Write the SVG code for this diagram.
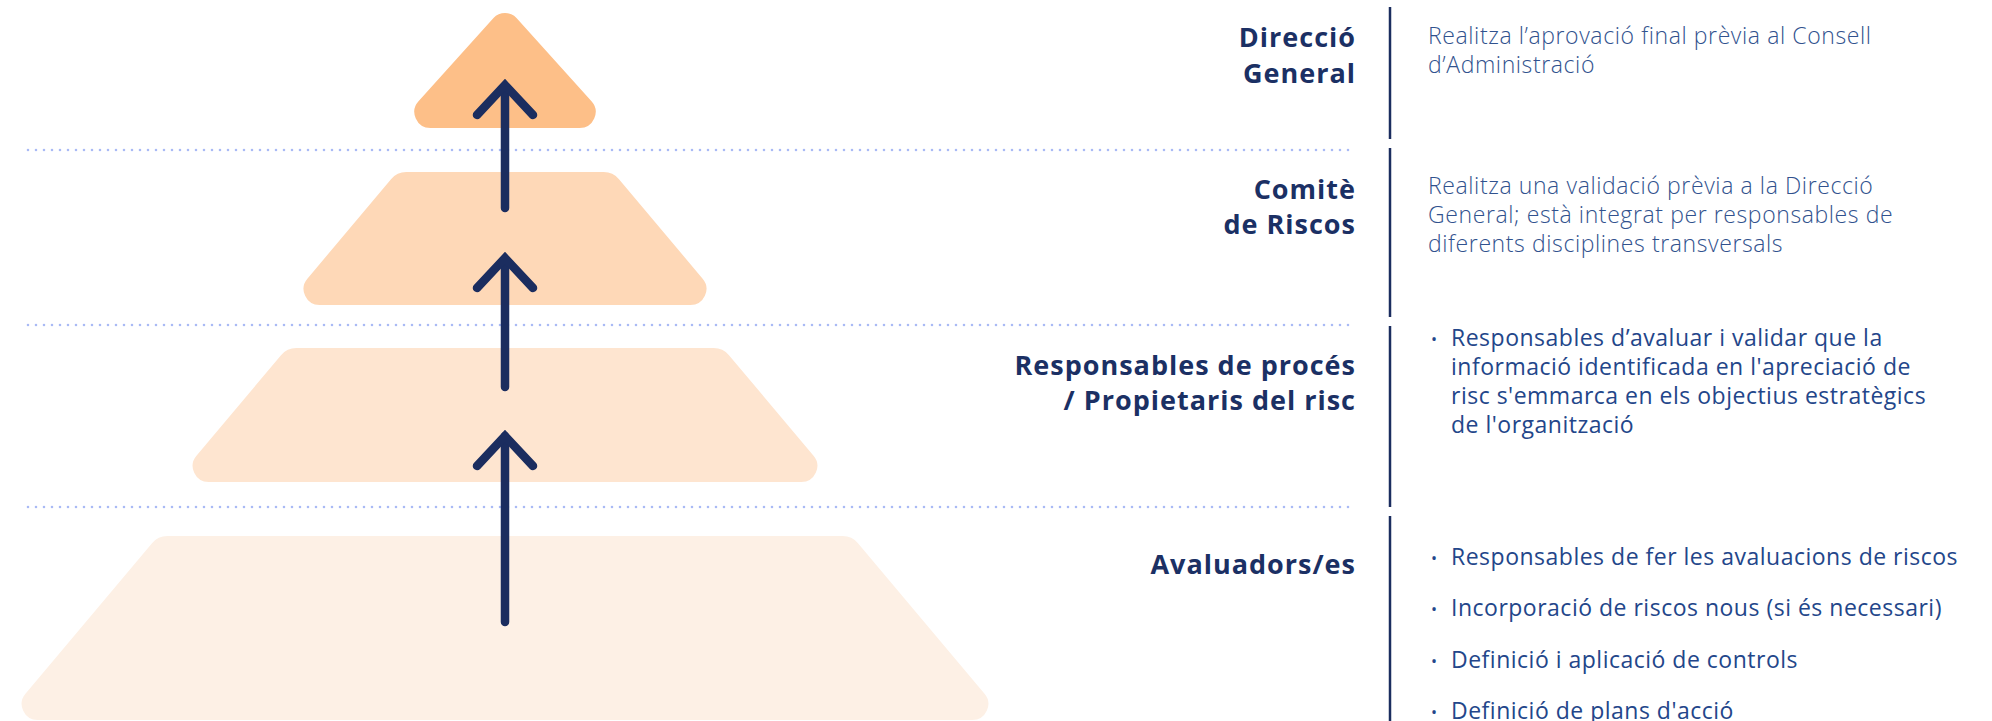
<svg xmlns="http://www.w3.org/2000/svg" width="1992" height="721" viewBox="0 0 1992 721">
<style>
.dot{stroke:#A9BAF5;stroke-width:2.6;stroke-linecap:round;stroke-dasharray:0 8;fill:none}
.vline{stroke:#1B2D5F;stroke-width:2.5;fill:none}
.arrow{stroke:#1B2D5F;stroke-width:8.5;fill:none;stroke-linecap:round;stroke-linejoin:miter}
.lbl{font-family:"Open Sans","Liberation Sans",sans-serif;font-weight:700;font-size:27px;fill:#1B3064;text-anchor:end;letter-spacing:1px}
.desc{font-family:"Open Sans","Liberation Sans",sans-serif;font-weight:300;font-size:23px;fill:#31528E;letter-spacing:0.6px}
.bul{font-family:"Open Sans","Liberation Sans",sans-serif;font-weight:400;font-size:23px;fill:#23468A;letter-spacing:0.5px}
.mark{font-family:"Open Sans","Liberation Sans",sans-serif;font-size:16px;fill:#23468A;text-anchor:middle}
</style>
<rect width="1992" height="721" fill="#FFFFFF"/>
<g id="separators">
<line class="dot" x1="28" y1="150" x2="1352" y2="150"/>
<line class="dot" x1="28" y1="325" x2="1352" y2="325"/>
<line class="dot" x1="28" y1="507" x2="1352" y2="507"/>
<line class="vline" x1="1390" y1="7" x2="1390" y2="139"/>
<line class="vline" x1="1390" y1="148" x2="1390" y2="317"/>
<line class="vline" x1="1390" y1="326" x2="1390" y2="507"/>
<line class="vline" x1="1390" y1="516" x2="1390" y2="721"/>
</g>
<g id="level-direccio-general">
<path fill="#FDBF88" d="M493.5 18 A15.5 15.5 0 0 1 516.5 18 L591.5 101.3 A16 16 0 0 1 579.6 128 L430.4 128 A16 16 0 0 1 418.5 101.3 Z"/>
<text class="lbl" x="1356" y="47">Direcció</text>
<text class="lbl" x="1356" y="83">General</text>
<text class="desc" x="1428" y="44">Realitza l’aprovació final prèvia al Consell</text>
<text class="desc" x="1428" y="73">d’Administració</text>
</g>
<g id="level-comite-riscos">
<path fill="#FED8B7" d="M406.3 172 L603.7 172 A20 20 0 0 1 618.99 179.14 L702.64 278.72 A16 16 0 0 1 690.39 305 L319.61 305 A16 16 0 0 1 307.36 278.72 L391.01 179.14 A20 20 0 0 1 406.3 172 Z"/>
<text class="lbl" x="1356" y="199">Comitè</text>
<text class="lbl" x="1356" y="234">de Riscos</text>
<text class="desc" x="1428" y="194">Realitza una validació prèvia a la Direcció</text>
<text class="desc" x="1428" y="223">General; està integrat per responsables de</text>
<text class="desc" x="1428" y="252">diferents disciplines transversals</text>
</g>
<g id="level-responsables-proces">
<path fill="#FEE5D0" d="M296.32 348 L713.68 348 A20 20 0 0 1 728.99 355.14 L813.54 455.72 A16 16 0 0 1 801.29 482 L208.71 482 A16 16 0 0 1 196.46 455.72 L281.01 355.14 A20 20 0 0 1 296.32 348 Z"/>
<text class="lbl" x="1356" y="375">Responsables de procés</text>
<text class="lbl" x="1356" y="410">/ Propietaris del risc</text>
<text class="mark" x="1434" y="345">•</text>
<text class="bul" x="1451" y="346">Responsables d’avaluar i validar que la</text>
<text class="bul" x="1451" y="375">informació identificada en l'apreciació de</text>
<text class="bul" x="1451" y="404">risc s'emmarca en els objectius estratègics</text>
<text class="bul" x="1451" y="433">de l'organització</text>
</g>
<g id="level-avaluadors">
<path fill="#FDF0E5" d="M167.32 536 L842.68 536 A20 20 0 0 1 857.99 543.14 L984.54 693.72 A16 16 0 0 1 972.29 720 L37.71 720 A16 16 0 0 1 25.46 693.72 L152.01 543.14 A20 20 0 0 1 167.32 536 Z"/>
<text class="lbl" x="1356" y="574">Avaluadors/es</text>
<text class="mark" x="1434" y="564">•</text>
<text class="bul" x="1451" y="565">Responsables de fer les avaluacions de riscos</text>
<text class="mark" x="1434" y="615">•</text>
<text class="bul" x="1451" y="616">Incorporació de riscos nous (si és necessari)</text>
<text class="mark" x="1434" y="667">•</text>
<text class="bul" x="1451" y="668">Definició i aplicació de controls</text>
<text class="mark" x="1434" y="718">•</text>
<text class="bul" x="1451" y="719">Definició de plans d'acció</text>
</g>
<g id="connectors">
<path class="arrow" d="M505 86 L505 208"/>
<path class="arrow" d="M477 115 L505 85 L533 115"/>
<path class="arrow" d="M505 259 L505 387"/>
<path class="arrow" d="M477 288 L505 258 L533 288"/>
<path class="arrow" d="M505 436 L505 622"/>
<path class="arrow" d="M477 466 L505 436 L533 466"/>
</g>
</svg>
